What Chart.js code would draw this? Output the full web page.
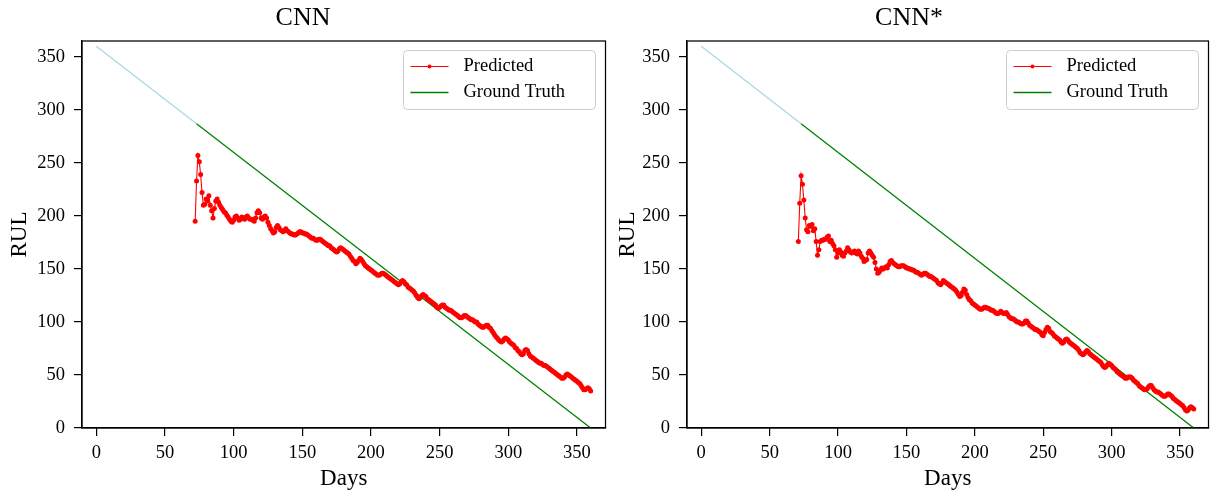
<!DOCTYPE html>
<html>
<head>
<meta charset="utf-8">
<script src="https://cdn.jsdelivr.net/npm/chart.js@4.4.1/dist/chart.umd.min.js"></script>
<style>
  body { margin: 0; background: #fff; }
  .panel { position: absolute; top: 0; }
</style>
</head>
<body>
<canvas id="cnn" class="panel" width="608" height="490" style="left:0px"></canvas>
<canvas id="cnnStar" class="panel" width="603" height="490" style="left:608px"></canvas>
<script>
// tick positions on both axes
const xTicks = [0, 50, 100, 150, 200, 250, 300, 350];
const yTicks = [0, 50, 100, 150, 200, 250, 300, 350];

// ground truth RUL (light blue part = before the predictions start)
const truthHistDays = [0, 73];
const truthHistRul = [360, 287];
const truthDays = [73, 360];
const truthRul = [287, 0];

// CNN predictions, one value per day starting at day 72
const cnnStartDay = 72;
const cnnPred = [
  195, 233, 257, 251, 239, 222, 210, 211, 216, 214,
  219, 210, 205, 198, 207, 214, 216, 213, 210, 208,
  206, 204, 203, 201, 199, 197, 195, 194, 196, 199,
  200, 198, 196, 197, 199, 198, 197, 199, 200, 198,
  197, 197, 196, 195, 198, 203, 205, 203, 198, 197,
  199, 200, 198, 194, 191, 188, 186, 184, 185, 189,
  191, 189, 187, 186, 185, 186, 188, 186, 185, 184,
  183, 183, 182, 182, 183, 184, 185, 185, 184, 184,
  183, 183, 182, 181, 180, 179, 179, 178, 177, 177,
  178, 178, 177, 176, 175, 174, 173, 172, 172, 170,
  169, 168, 167, 166, 167, 169, 170, 169, 168, 167,
  166, 165, 164, 162, 160, 158, 157, 155, 156, 158,
  160, 159, 157, 155, 153, 152, 151, 150, 149, 148,
  147, 146, 145, 144, 144, 145, 146, 146, 145, 144,
  143, 142, 141, 140, 139, 138, 137, 136, 135, 136,
  138, 139, 138, 136, 135, 133, 132, 131, 130, 129,
  127, 125, 123, 122, 123, 125, 126, 125, 124, 122,
  121, 120, 119, 118, 117, 116, 114, 113, 114, 115,
  116, 116, 114, 113, 112, 111, 111, 110, 109, 108,
  107, 106, 105, 104, 104, 105, 106, 106, 105, 104,
  103, 102, 102, 101, 100, 100, 98, 97, 96, 95,
  95, 96, 97, 97, 95, 94, 92, 90, 88, 86,
  85, 83, 82, 81, 82, 84, 85, 84, 83, 81,
  80, 79, 78, 76, 75, 73, 72, 70, 69, 70,
  73, 74, 73, 70, 68, 67, 66, 65, 64, 63,
  62, 61, 61, 60, 59, 59, 58, 57, 56, 55,
  54, 53, 52, 51, 50, 49, 48, 47, 47, 48,
  50, 51, 50, 49, 48, 47, 46, 45, 44, 43,
  42, 40, 38, 36, 36, 37, 38, 37, 35
];

// CNN* predictions, one value per day starting at day 71
const cnnStarStartDay = 71;
const cnnStarPred = [
  176, 212, 238, 230, 215, 198, 187, 185, 191, 190,
  192, 186, 188, 176, 163, 168, 176, 177, 177, 178,
  178, 180, 181, 176, 177, 174, 172, 168, 161, 165,
  168, 166, 163, 162, 165, 167, 170, 168, 166, 165,
  166, 167, 165, 164, 167, 165, 162, 160, 157, 158,
  159, 165, 167, 165, 163, 161, 156, 150, 146, 147,
  149, 151, 150, 151, 152, 151, 154, 157, 158, 156,
  155, 154, 153, 152, 152, 153, 153, 153, 152, 151,
  151, 150, 150, 149, 149, 148, 147, 147, 146, 145,
  144, 145, 146, 146, 145, 144, 143, 143, 142, 141,
  140, 139, 137, 136, 135, 137, 139, 138, 137, 136,
  135, 134, 133, 132, 131, 130, 128, 126, 124, 125,
  128, 131, 130, 126, 123, 121, 120, 118, 117, 116,
  115, 114, 113, 112, 112, 113, 114, 114, 113, 113,
  112, 111, 111, 110, 109, 108, 108, 109, 110, 109,
  108, 108, 109, 107, 105, 104, 103, 103, 102, 101,
  100, 100, 99, 98, 98, 99, 101, 101, 99, 97,
  96, 95, 94, 93, 93, 92, 91, 90, 88, 87,
  90, 93, 95, 94, 91, 90, 89, 87, 86, 85,
  84, 83, 81, 80, 81, 83, 84, 83, 81, 80,
  79, 78, 77, 76, 75, 73, 71, 70, 69, 70,
  72, 73, 72, 70, 69, 68, 67, 66, 65, 64,
  63, 62, 60, 58, 57, 58, 60, 61, 60, 59,
  57, 56, 55, 53, 52, 51, 50, 49, 48, 47,
  47, 48, 48, 48, 47, 45, 44, 43, 42, 40,
  39, 38, 37, 36, 36, 37, 39, 40, 40, 38,
  36, 35, 34, 34, 33, 32, 31, 30, 30, 31,
  32, 32, 31, 30, 28, 27, 26, 25, 24, 23,
  22, 21, 19, 17, 16, 17, 19, 20, 19, 18
];

const serif = '"Liberation Serif", "Times New Roman", serif';

function toPoints(xs, ys) {
  return xs.map((x, i) => ({ x: x, y: ys[i] }));
}

// full box around the plot + matplotlib style legend in the upper right
const boxLegend = {
  id: 'boxLegend',
  afterDraw(chart) {
    const ctx = chart.ctx;
    const a = chart.chartArea;
    ctx.save();
    ctx.strokeStyle = '#000';
    ctx.lineWidth = 1.25;
    ctx.strokeRect(a.left, a.top, a.right - a.left, a.bottom - a.top);

    const w = 192, h = 59;
    const x0 = Math.round(a.right - 11 - w) + 0.5;
    const y0 = Math.round(a.top + 9) + 0.5;
    ctx.beginPath();
    ctx.roundRect(x0, y0, w, h, 4);
    ctx.fillStyle = 'rgba(255,255,255,0.8)';
    ctx.fill();
    ctx.strokeStyle = '#cccccc';
    ctx.lineWidth = 1;
    ctx.stroke();

    const items = chart.data.datasets.filter(d => d.label);
    items.forEach(function (d, i) {
      const y = y0 + 16 + i * 26;
      ctx.strokeStyle = d.borderColor;
      ctx.lineWidth = d.borderWidth;
      ctx.beginPath();
      ctx.moveTo(x0 + 7, y);
      ctx.lineTo(x0 + 45, y);
      ctx.stroke();
      if (d.pointRadius > 0) {
        ctx.fillStyle = d.pointBackgroundColor;
        ctx.beginPath();
        ctx.arc(x0 + 26, y, 2, 0, Math.PI * 2);
        ctx.fill();
      }
      ctx.fillStyle = '#000';
      ctx.font = '18.5px ' + serif;
      ctx.textAlign = 'left';
      ctx.textBaseline = 'middle';
      ctx.fillText(d.label, x0 + 60, y);
    });
    ctx.restore();
  }
};

function drawPanel(id, title, startDay, values, yAxisWidth, rightPad) {
  const days = values.map((v, i) => startDay + i);
  const tickFont = { family: serif, size: 18.5 };
  return new Chart(document.getElementById(id), {
    type: 'line',
    data: {
      datasets: [
        {
          label: 'Predicted',
          data: toPoints(days, values),
          borderColor: 'red',
          borderWidth: 1.1,
          pointRadius: 2.5,
          pointBorderWidth: 0,
          pointBackgroundColor: 'red',
          pointHoverRadius: 0,
        },
        {
          label: 'Ground Truth',
          data: toPoints(truthDays, truthRul),
          borderColor: 'green',
          borderWidth: 1.3,
          pointRadius: 0,
        },
        {
          label: '',
          data: toPoints(truthHistDays, truthHistRul),
          borderColor: 'lightblue',
          borderWidth: 1.4,
          pointRadius: 0,
        },
      ],
    },
    options: {
      responsive: false,
      animation: false,
      events: [],
      layout: { padding: { left: 0, right: rightPad, top: 0, bottom: 0 } },
      plugins: {
        legend: { display: false },
        tooltip: { enabled: false },
        title: {
          display: true,
          text: title,
          color: '#000',
          font: { family: serif, size: 26, weight: 'normal', lineHeight: 1.2 },
          padding: { top: 3, bottom: 6.8 },
        },
      },
      scales: {
        x: {
          type: 'linear',
          min: -10.4,
          max: 370.8,
          afterBuildTicks: function (scale) {
            scale.ticks = xTicks.map(v => ({ value: v }));
          },
          afterFit: function (scale) {
            scale.height = 62;
          },
          ticks: { color: '#000', font: tickFont, padding: 6, maxRotation: 0 },
          grid: { drawOnChartArea: false, drawTicks: true, tickLength: 8, color: '#000', lineWidth: 1.2 },
          border: { display: true, color: '#000', width: 1.25 },
          title: {
            display: true,
            text: 'Days',
            color: '#000',
            font: { family: serif, size: 23, lineHeight: 1 },
            padding: { top: 0, bottom: 0 },
          },
        },
        y: {
          type: 'linear',
          min: 0,
          max: 365,
          afterBuildTicks: function (scale) {
            scale.ticks = yTicks.map(v => ({ value: v }));
          },
          afterFit: function (scale) {
            scale.width = yAxisWidth;
          },
          ticks: { color: '#000', font: tickFont, padding: 9 },
          grid: { drawOnChartArea: false, drawTicks: true, tickLength: 8, color: '#000', lineWidth: 1.2 },
          border: { display: true, color: '#000', width: 1.25 },
          title: {
            display: true,
            text: 'RUL',
            color: '#000',
            font: { family: serif, size: 23, lineHeight: 1 },
            padding: { top: 8, bottom: 0 },
          },
        },
      },
    },
    plugins: [boxLegend],
  });
}

drawPanel('cnn', 'CNN', cnnStartDay, cnnPred, 82, 2);
drawPanel('cnnStar', 'CNN*', cnnStarStartDay, cnnStarPred, 79, 1);
</script>
</body>
</html>
